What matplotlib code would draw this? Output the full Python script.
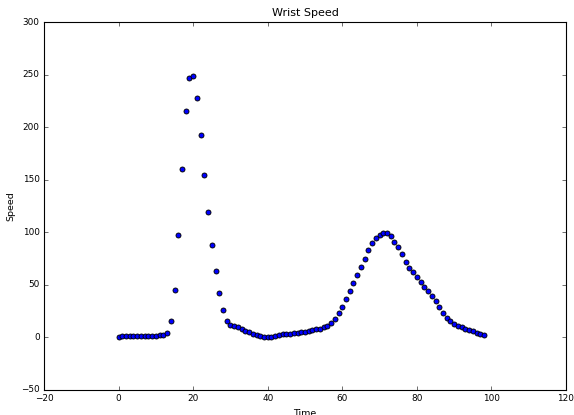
"""
Wrist Speed scatter, drawn in the classic matplotlib look.
"""

import matplotlib
matplotlib.use("Agg")
import matplotlib.pyplot as plt

# ---------------------------------------------------------------------------
# Data
# ---------------------------------------------------------------------------
time = list(range(0, 99))

speed = [
    0, 1, 1, 1, 1, 1.3, 1.3, 1.5, 1.5, 1.5,          # 0-9
    1.8, 2, 2, 4.5, 16, 45, 97.5, 160, 215, 246.5,    # 10-19
    249, 228, 193, 154.5, 119, 88, 63, 42.5, 26, 15.5,  # 20-29
    11.5, 10.5, 9.5, 7.8, 6.1, 5.1, 3.5, 2.3, 1.0, 0.4,  # 30-39
    0, 0.5, 1.3, 2.3, 3.2, 3.3, 3.5, 3.8, 4.2, 4.8,   # 40-49
    5.5, 6.1, 7, 7.7, 8.4, 9.5, 11, 14, 17.8, 23,     # 50-59
    29, 36.5, 44, 52, 59.5, 67, 75, 83, 89.5, 94.3,   # 60-69
    97.5, 99.6, 99, 96, 91, 86, 79, 71.5, 66, 62,     # 70-79
    57.5, 52.7, 48, 44, 39.4, 34.3, 29, 23.2, 18.8, 15.6,  # 80-89
    13, 11.2, 9.9, 8.3, 7, 5.8, 4.2, 3.2, 2,          # 90-98
]

plt.style.use("classic")

fig = plt.figure(figsize=(574 / 80, 415 / 80), dpi=80)
ax = fig.add_axes([44 / 574, 1 - 390 / 415, (566 - 44) / 574, (390 - 22) / 415])

ax.scatter(time, speed, s=20, color="#0000ff", edgecolors="black", linewidths=0.8)

ax.set_xlim(-20, 120)
ax.set_ylim(-50, 300)
ax.set_title("Wrist Speed", fontsize=10)
ax.set_xlabel("Time", fontsize=8.5)
ax.set_ylabel("Speed", fontsize=8.5)
ax.tick_params(labelsize=8)

fig.savefig("out.png", dpi=80)
